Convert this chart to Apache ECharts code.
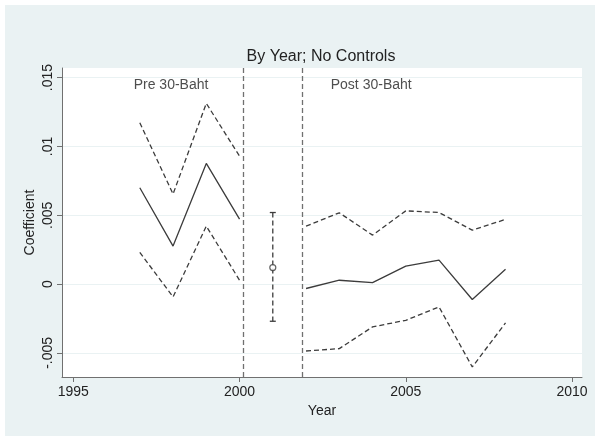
<!DOCTYPE html>
<html>
<head>
<meta charset="utf-8">
<script src="https://cdn.jsdelivr.net/npm/echarts@6/dist/echarts.min.js"></script>
<style>
html,body{margin:0;padding:0;background:#ffffff;}
#c{width:602px;height:441px;}
</style>
</head>
<body>
<div id="c"></div>
<script>
// ---- data ----
const yearsPre = [1997, 1998, 1999, 2000];
const coefPre  = [0.0070, 0.00276, 0.00877, 0.00472];
const upperPre = [0.01172, 0.00654, 0.01313, 0.0093];
const lowerPre = [0.0023, -0.00093, 0.00421, 0.00028];

const yearsPost = [2002, 2003, 2004, 2005, 2006, 2007, 2008];
const coefPost  = [-0.00032, 0.00028, 0.00011, 0.0013, 0.00174, -0.00112, 0.00108];
const upperPost = [0.00421, 0.00518, 0.00356, 0.00532, 0.0052, 0.00392, 0.0047];
const lowerPost = [-0.00486, -0.00469, -0.00311, -0.00263, -0.00166, -0.00602, -0.00282];

const yearMid = [2001];
const coefMid = [0.0012];
const upperMid = [0.0052];
const lowerMid = [-0.0027];

const breakLines = [2000.1, 2001.9];
const xTicks = [1995, 2000, 2005, 2010];
const yTicks = [-0.005, 0, 0.005, 0.01, 0.015];
const yTickLabels = ['-.005', '0', '.005', '.01', '.015'];
const periodLabels = [
  {text: 'Pre 30-Baht', x: 1997.94, y: 0.01447},
  {text: 'Post 30-Baht', x: 2003.96, y: 0.01447}
];

const zip = (xs, ys) => xs.map((x, i) => [x, ys[i]]);
const FONT = '"Liberation Sans", Arial, Helvetica, sans-serif';
const TXT = '#222222';
const LINE = '#3c3c3c';
const solid = {color: LINE, width: 1.3, type: 'solid'};
const dashed = {color: LINE, width: 1.3, type: [5, 3]};

function lineSeries(data, style) {
  return {type: 'line', data: data, symbol: 'none', lineStyle: style, silent: true, z: 3};
}

const chart = echarts.init(document.getElementById('c'), null, {renderer: 'canvas'});
chart.setOption({
  animation: false,
  backgroundColor: '#ffffff',
  textStyle: {fontFamily: FONT},
  graphic: [
    {type: 'rect', shape: {x: 5, y: 5, width: 590, height: 431}, style: {fill: '#eaf2f3'}, z: -10, silent: true},
    {type: 'text', x: 321, y: 57, style: {text: 'By Year; No Controls', font: '16px ' + FONT, fill: TXT, textAlign: 'center', textVerticalAlign: 'middle'}, z: 10}
  ],
  grid: {left: 62, right: 20, top: 68, bottom: 64, show: true, backgroundColor: '#ffffff', borderWidth: 0},
  xAxis: {
    type: 'value', min: 1994.66, max: 2010.3,
    name: 'Year', nameLocation: 'middle', nameGap: 27, nameMoveOverlap: false,
    nameTextStyle: {fontSize: 14, color: TXT, fontFamily: FONT},
    axisLine: {show: true, onZero: false, lineStyle: {color: '#707070', width: 1}},
    axisTick: {show: true, inside: false, length: 5, lineStyle: {color: '#707070'}, customValues: xTicks},
    axisLabel: {fontSize: 14, color: TXT, margin: 8, fontFamily: FONT, customValues: xTicks, formatter: v => String(v)},
    splitLine: {show: false}
  },
  yAxis: {
    type: 'value', min: -0.00675, max: 0.0157,
    name: 'Coefficient', nameLocation: 'middle', nameGap: 25, nameRotate: 90, nameMoveOverlap: false,
    nameTextStyle: {fontSize: 14, color: TXT, fontFamily: FONT},
    axisLine: {show: true, onZero: false, lineStyle: {color: '#707070', width: 1}},
    axisTick: {show: true, inside: false, length: 5, lineStyle: {color: '#707070'}, customValues: yTicks},
    axisLabel: {
      fontSize: 14, color: TXT, margin: 7, rotate: 90, fontFamily: FONT, customValues: yTicks,
      formatter: v => {
        const i = yTicks.findIndex(t => Math.abs(t - v) < 1e-9);
        return i >= 0 ? yTickLabels[i] : '';
      }
    },
    splitLine: {show: true, lineStyle: {color: '#eaf2f3', width: 1}}
  },
  series: [
    lineSeries(zip(yearsPre, upperPre), dashed),
    lineSeries(zip(yearsPre, coefPre), solid),
    lineSeries(zip(yearsPre, lowerPre), dashed),
    lineSeries(zip(yearsPost, upperPost), dashed),
    lineSeries(zip(yearsPost, coefPost), solid),
    lineSeries(zip(yearsPost, lowerPost), dashed),
    {
      type: 'line',
      data: [[yearMid[0], upperMid[0]], [yearMid[0], lowerMid[0]]],
      symbol: 'rect', symbolSize: [6, 1.3], showSymbol: true,
      itemStyle: {color: LINE},
      lineStyle: dashed, silent: true, z: 3
    },
    {
      type: 'scatter',
      data: zip(yearMid, coefMid),
      symbol: 'circle', symbolSize: 6,
      itemStyle: {color: '#ffffff', borderColor: LINE, borderWidth: 1.2},
      silent: true, z: 4
    },
    {
      type: 'scatter',
      data: periodLabels.map(p => ({value: [p.x, p.y], name: p.text})),
      symbolSize: 0,
      label: {show: true, position: 'inside', formatter: p => p.name, fontSize: 14, color: TXT, fontFamily: FONT},
      silent: true, z: 5,
      markLine: {
        symbol: 'none', silent: true,
        label: {show: false},
        lineStyle: {color: '#707070', width: 1.3, type: [5, 3]},
        data: breakLines.map(b => ({xAxis: b}))
      }
    }
  ]
});
</script>
</body>
</html>
